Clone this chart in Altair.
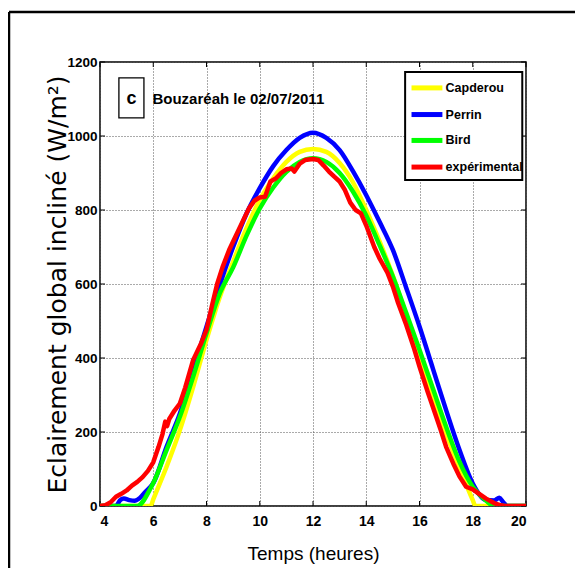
import altair as alt
import pandas as pd

# ---------------- data ----------------
series_names = ["Capderou", "Perrin", "Bird", "expérimental"]
series_colors = ["#ffff00", "#0000ff", "#00ff00", "#ff0000"]

capderou_h = [4, 5, 5.9, 6.0, 6.5, 7, 7.5, 8, 8.5, 9, 9.5, 10, 10.5, 11, 11.5, 12,
              12.5, 13, 13.5, 14, 14.5, 15, 15.5, 16, 16.5, 17, 17.5, 18, 18.1, 19, 20]
capderou_v = [0, 0, 0, 18, 106, 205, 322, 449, 565, 660, 750, 827, 885, 930, 957, 965,
              957, 927, 875, 800, 715, 622, 515, 404, 300, 196, 104, 16, 0, 0, 0]

perrin_h = [4, 4.6, 4.75, 4.9, 5.1, 5.3, 5.5, 5.7, 5.9, 6.0, 6.5, 7, 7.5, 8, 8.5, 9,
            9.5, 10, 10.5, 11, 11.5, 12, 12.5, 13, 13.5, 14, 14.5, 15, 15.5, 16, 16.5,
            17, 17.5, 18, 18.5, 18.8, 19.0, 19.15, 19.3, 20]
perrin_v = [0, 0, 15, 20, 16, 14, 22, 38, 52, 62, 160, 250, 368, 485, 598, 700,
            790, 859, 918, 962, 995, 1009, 995, 962, 905, 840, 768, 692, 590, 485, 372,
            259, 152, 61, 16, 15, 22, 10, 0, 0]

bird_h = [4, 5.4, 5.9, 6.0, 6.5, 7, 7.5, 8, 8.5, 9, 9.5, 10, 10.5, 11, 11.5, 12,
          12.5, 13, 13.5, 14, 14.5, 15, 15.5, 16, 16.5, 17, 17.5, 18, 18.5, 18.8, 20]
bird_v = [0, 0, 48, 62, 151, 241, 350, 467, 575, 645, 730, 804, 860, 903, 930, 940,
          930, 900, 850, 785, 705, 620, 522, 422, 318, 214, 120, 52, 14, 0, 0]

exp_h = [4, 4.2, 4.4, 4.6, 4.8, 5, 5.2, 5.4, 5.6, 5.8, 6, 6.2, 6.35, 6.45, 6.52, 6.6,
         6.8, 7, 7.2, 7.5, 7.8, 8, 8.2, 8.4, 8.6, 8.85, 9, 9.3, 9.6, 9.8, 10, 10.2,
         10.4, 10.6, 10.8, 11, 11.2, 11.3, 11.5, 11.7, 12, 12.2, 12.4, 12.6, 12.8, 13,
         13.2, 13.4, 13.6, 13.8, 14, 14.3, 14.5, 14.8, 15, 15.2, 15.5, 15.8, 16, 16.3,
         16.5, 16.8, 17, 17.3, 17.5, 17.75, 18, 18.2, 18.5, 18.8, 19, 19.2, 20]
exp_v = [0, 2, 10, 25, 33, 42, 55, 65, 78, 95, 118, 160, 195, 228, 216, 235,
         258, 277, 320, 395, 440, 476, 540, 600, 645, 692, 715, 760, 805, 825, 834, 836,
         877, 885, 900, 910, 912, 904, 925, 935, 938, 935, 920, 904, 890, 877,
         854, 820, 800, 791, 758, 700, 669, 630, 593, 548, 490, 425, 377, 310,
         268, 205, 160, 110, 80, 52, 45, 35, 20, 8, 3, 0, 0]

x_ticks = [4, 6, 8, 10, 12, 14, 16, 18, 20]
y_ticks = [0, 200, 400, 600, 800, 1000, 1200]

panel_letter = "c"
panel_title = "Bouzaréah le 02/07/2011"
x_title = "Temps (heures)"
y_title = "Eclairement global incliné (W/m²)"

# ---------------- style ----------------
NARROW = "Liberation Sans Narrow, Arial Narrow, Liberation Sans, Arial, sans-serif"
W, H = 426, 444
XMIN, XMAX, YMIN, YMAX = 4, 20, 0, 1200

xs = alt.Scale(domain=[XMIN, XMAX], nice=False, zero=False)
ys = alt.Scale(domain=[YMIN, YMAX], nice=False)


def X(field="h"):
    return alt.X(f"{field}:Q", scale=xs, title=x_title,
                 axis=alt.Axis(values=x_ticks, format="d", grid=True))


def Y(field="v"):
    return alt.Y(f"{field}:Q", scale=ys, title=y_title,
                 axis=alt.Axis(values=y_ticks, format="d", grid=True))


layers = []

# frame around the figure (decoration)
one = pd.DataFrame({"a": [0]})
layers.append(alt.Chart(one).mark_rule(color="black", strokeWidth=2.5).encode(
    x=alt.value(-91), y=alt.value(-50), y2=alt.value(H + 62)))
layers.append(alt.Chart(one).mark_rule(color="black", strokeWidth=2.5).encode(
    x=alt.value(-91), x2=alt.value(W + 60), y=alt.value(-50)))

# inward ticks on all 4 sides
tlen_v = 5 / (H / (YMAX - YMIN))
tlen_h = 5 / (W / (XMAX - XMIN))
tick_rows = []
for t in x_ticks:
    tick_rows.append({"h": t, "h2": t, "v": YMIN, "v2": YMIN + tlen_v})
    tick_rows.append({"h": t, "h2": t, "v": YMAX, "v2": YMAX - tlen_v})
for t in y_ticks:
    tick_rows.append({"h": XMIN, "h2": XMIN + tlen_h, "v": t, "v2": t})
    tick_rows.append({"h": XMAX, "h2": XMAX - tlen_h, "v": t, "v2": t})
layers.append(alt.Chart(pd.DataFrame(tick_rows)).mark_rule(color="black", strokeWidth=1).encode(
    x=X(), x2="h2:Q", y=Y(), y2="v2:Q"))

# series lines
all_series = [(capderou_h, capderou_v), (perrin_h, perrin_v), (bird_h, bird_v), (exp_h, exp_v)]
for i, (hh, vv) in enumerate(all_series):
    df = pd.DataFrame({"h": hh, "v": vv, "serie": series_names[i]})
    interp = "linear" if i == 3 else "monotone"
    layers.append(alt.Chart(df).mark_line(color=series_colors[i], strokeWidth=4.5,
                                          interpolate=interp, strokeJoin="round",
                                          clip=True).encode(x=X(), y=Y()))

# panel label box "c" and title text
lab_box = pd.DataFrame({"h": [4.71], "h2": [5.65], "v": [1157], "v2": [1049]})
layers.append(alt.Chart(lab_box).mark_rect(fill="white", stroke="black", strokeWidth=1.3).encode(
    x=X(), x2="h2:Q", y=Y(), y2="v2:Q"))
layers.append(alt.Chart(pd.DataFrame({"h": [5.18], "v": [1100], "t": [panel_letter]})).mark_text(
    font=NARROW, fontWeight="bold", fontSize=18, align="center", baseline="middle").encode(
    x=X(), y=Y(), text="t:N"))
layers.append(alt.Chart(pd.DataFrame({"h": [5.97], "v": [1100], "t": [panel_title]})).mark_text(
    font=NARROW, fontWeight="bold", fontSize=15, align="left", baseline="middle").encode(
    x=X(), y=Y(), text="t:N"))

# legend (drawn through the data scales)
leg_box = pd.DataFrame({"h": [15.46], "h2": [19.86], "v": [1173], "v2": [881]})
layers.append(alt.Chart(leg_box).mark_rect(fill="white", stroke="black", strokeWidth=2).encode(
    x=X(), x2="h2:Q", y=Y(), y2="v2:Q"))
leg_v = [1130, 1058, 988, 916]
for i in range(4):
    row = pd.DataFrame({"h": [15.70], "h2": [16.86], "v": [leg_v[i]], "t": [series_names[i]], "hl": [16.98]})
    layers.append(alt.Chart(row).mark_rule(color=series_colors[i], strokeWidth=5).encode(
        x=X(), x2="h2:Q", y=Y()))
    layers.append(alt.Chart(row).mark_text(font=NARROW, fontWeight="bold", fontSize=12.5,
                                           align="left", baseline="middle").encode(
        x=alt.X("hl:Q", scale=xs, title=x_title, axis=alt.Axis(values=x_ticks, format="d", grid=True)),
        y=Y(), text="t:N"))

chart = alt.layer(*layers).properties(
    width=W, height=H,
    autosize=alt.AutoSizeParams(type="none"),
    padding={"left": 92, "top": 54, "right": 49, "bottom": 62},
).configure_view(
    stroke="black", strokeWidth=1.5
).configure_axis(
    domain=False, ticks=False,
    gridColor="#555555", gridDash=[1, 2], gridWidth=1, gridOpacity=1,
    labelFont=NARROW, labelFontWeight="bold", labelColor="black",
    titleColor="black", titleFontWeight="normal",
).configure_axisX(
    labelFontSize=14, labelPadding=8,
    titleFont=NARROW, titleFontSize=19, titleX=W / 2, titleY=47,
    titleBaseline="middle", titleAlign="center",
).configure_axisY(
    labelFontSize=13.5, labelPadding=3,
    titleFont="DejaVu Sans", titleFontSize=25, titleX=-43, titleY=H / 2,
    titleAngle=-90, titleBaseline="middle", titleAlign="center",
)

chart.save("out.html", embed_options={"renderer": "svg", "actions": False})
